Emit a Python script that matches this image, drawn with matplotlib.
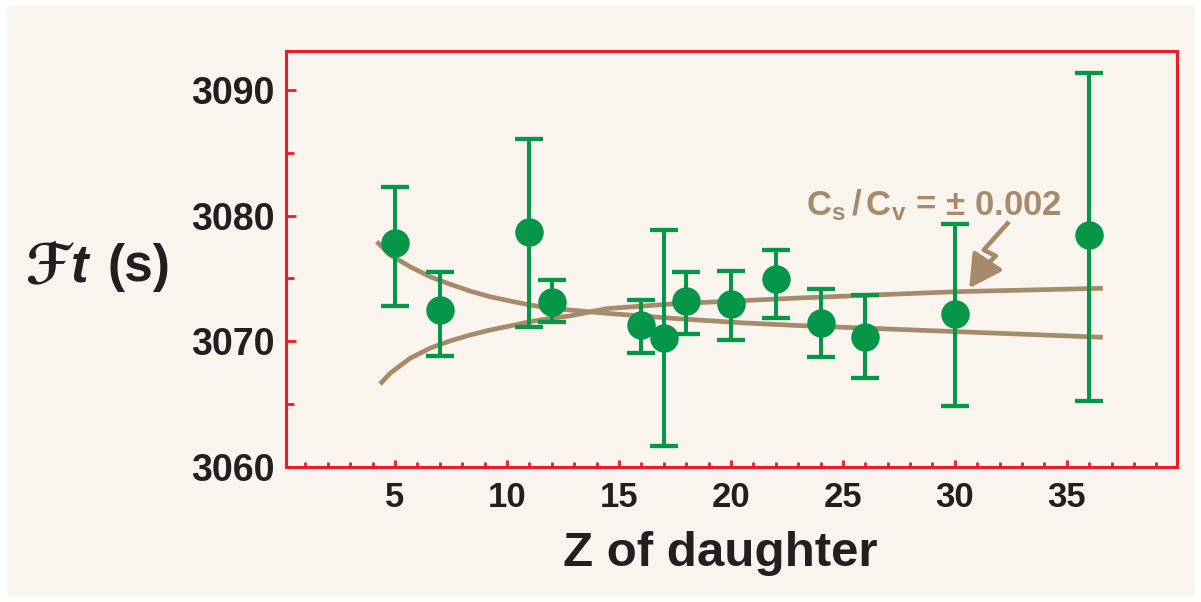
import matplotlib
matplotlib.use("Agg")
import matplotlib.pyplot as plt
from matplotlib.ticker import MultipleLocator

# ---- data ----
Z = [5, 7, 11, 12, 16, 17, 18, 20, 22, 24, 26, 30, 36]
Ft = [3077.85, 3072.5, 3078.7, 3073.15, 3071.3, 3070.25, 3073.2, 3073.0, 3074.95, 3071.45, 3070.35, 3072.15, 3078.45]
err_hi = [4.4, 3.0, 7.4, 1.7, 2.0, 8.6, 2.3, 2.6, 2.3, 2.7, 3.3, 7.2, 12.9]
err_lo = [5.0, 3.7, 7.6, 1.6, 2.2, 8.6, 2.6, 2.9, 3.1, 2.7, 3.3, 7.3, 13.2]

dec_x = [4.18, 4.78, 5.67, 6.56, 7.46, 8.35, 9.24, 10.13, 11.03, 11.92, 14.45, 17.41, 20.40, 23.08, 30.08, 36.61]
dec_y = [3077.93, 3076.87, 3075.94, 3075.14, 3074.54, 3074.00, 3073.55, 3073.21, 3072.89, 3072.63,
         3072.23, 3071.83, 3071.48, 3071.25, 3070.77, 3070.32]
inc_x = [4.33, 4.78, 5.67, 6.56, 7.46, 8.35, 9.24, 10.13, 11.03, 11.92, 12.81, 14.45, 17.41, 20.40, 23.08, 30.08, 36.61]
inc_y = [3066.60, 3067.46, 3068.65, 3069.45, 3070.03, 3070.50, 3070.90, 3071.22, 3071.56, 3071.83,
         3072.02, 3072.60, 3072.98, 3073.23, 3073.45, 3073.95, 3074.22]

xticks = [5, 10, 15, 20, 25, 30, 35]
yticks = [3060, 3070, 3080, 3090]

GREEN = "#05964A"
TAN = "#A68B6B"
RED = "#ED1C24"
DARK = "#231F20"
CREAM = "#F9F5EE"

plt.rcParams["mathtext.fontset"] = "custom"
plt.rcParams["mathtext.rm"] = "Liberation Sans:bold"
plt.rcParams["mathtext.bf"] = "Liberation Sans:bold"
plt.rcParams["mathtext.it"] = "Liberation Sans:italic:bold"

fig = plt.figure(figsize=(12.01, 6.02), dpi=100, facecolor="white")
bg = fig.add_axes([7 / 1201, 6 / 602, 1188 / 1201, 590 / 602], zorder=-5)
bg.set_facecolor(CREAM)
bg.set_xticks([])
bg.set_yticks([])
for s in bg.spines.values():
    s.set_visible(False)

ax = fig.add_axes([286 / 1201, 1 - 467 / 602, (1177 - 286) / 1201, (467 - 51) / 602], zorder=1)
ax.set_facecolor(CREAM)

ax.plot(dec_x, dec_y, color=TAN, lw=3.4, solid_capstyle="butt", solid_joinstyle="round", zorder=2)
ax.plot(inc_x, inc_y, color=TAN, lw=3.4, solid_capstyle="butt", solid_joinstyle="round", zorder=2)

ax.errorbar(Z, Ft, yerr=[err_lo, err_hi], fmt="o", color=GREEN, ms=19.5,
            elinewidth=2.9, capsize=10, capthick=3.1, zorder=3)

ax.set_xlim(0.13, 39.92)
ax.set_ylim(3060, 3093.1)
ax.set_xticks(xticks)
ax.set_yticks(yticks)
ax.xaxis.set_minor_locator(MultipleLocator(1))
ax.yaxis.set_minor_locator(MultipleLocator(5))

for s in ax.spines.values():
    s.set_color(RED)
    s.set_linewidth(2.2)

ax.tick_params(axis="both", which="both", direction="in", color=RED, width=2.0)
ax.tick_params(axis="y", which="major", length=7)
ax.tick_params(axis="y", which="minor", length=6)
ax.tick_params(axis="x", which="major", length=5)
ax.tick_params(axis="x", which="minor", length=3.5)
ax.tick_params(axis="y", which="major", pad=8, labelsize=27, labelcolor=DARK)
ax.tick_params(axis="x", which="major", pad=10, labelsize=25, labelcolor=DARK)
for lab in ax.get_xticklabels() + ax.get_yticklabels():
    lab.set_fontweight("bold")
    lab.set_family("Liberation Sans")

fig.text(720 / 1201, 1 - 554 / 602, "Z of daughter", fontsize=35.5, fontweight="bold",
         color=DARK, ha="center", va="center", family="Liberation Sans")

# y label: script F + italic t + (s)
fig.text(70 / 1201, 1 - 268 / 602, "ℱ", fontsize=40, fontweight="bold",
         color=DARK, ha="right", va="center", family="DejaVu Sans")
fig.text(70 / 1201, 1 - 268 / 602, r"$\mathit{t}$", fontsize=38, fontweight="bold",
         color=DARK, ha="left", va="center", family="Liberation Sans")
fig.text(108 / 1201, 1 - 268 / 602, "(s)", fontsize=37, fontweight="bold",
         color=DARK, ha="left", va="center", family="Liberation Sans")

# annotation
ax.text(29.05, 3080.8, r"$\mathbf{C_s\,/\,C_v}$ = ± 0.002", fontsize=25, fontweight="bold",
        color=TAN, ha="center", va="center", family="Liberation Sans")
sq_x = [32.42, 31.29, 31.83, 31.19]
sq_y = [3079.52, 3077.27, 3076.79, 3075.68]
ax.plot(sq_x, sq_y, color=TAN, lw=3.3, solid_capstyle="butt", solid_joinstyle="round", zorder=4)
ax.annotate("", xy=(30.64, 3074.22), xytext=(31.19, 3075.68),
            arrowprops=dict(arrowstyle="-|>,head_width=0.6,head_length=1.1",
                            mutation_scale=18, lw=3.3, color=TAN,
                            shrinkA=0, shrinkB=0), zorder=4)

fig.savefig("out.png", dpi=100, facecolor="white")
